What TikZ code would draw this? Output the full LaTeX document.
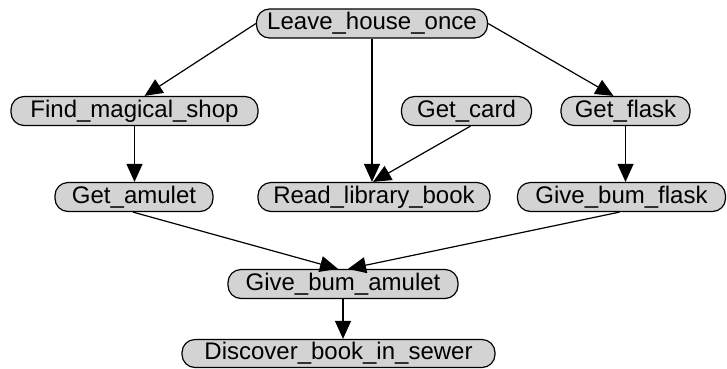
\documentclass[tikz,border=0pt]{standalone}
\usepackage{fontspec}
\setmainfont{Liberation Sans}
\usetikzlibrary{arrows.meta,positioning}
\definecolor{boxgray}{RGB}{211,211,211}

\begin{document}
\begin{tikzpicture}[x=1pt, y=-1pt,
  act/.style={draw, line width=1.2pt, fill=boxgray, rounded corners=13pt, minimum height=29pt, inner sep=0pt, font=\fontsize{24}{28}\selectfont},
  arr/.style={-{Triangle[length=18pt,width=16pt]}, line width=1.2pt}
]
\useasboundingbox (0,0) rectangle (727,368);
\node[act, minimum width=231pt] (leaveHouse) at (372,23.5) {Leave\_house\_once};
\node[act, minimum width=247pt] (findShop) at (134.5,111) {Find\_magical\_shop};
\node[act, minimum width=130pt] (getCard) at (466.5,111) {Get\_card};
\node[act, minimum width=129pt] (getFlask) at (625.5,111) {Get\_flask};
\node[act, minimum width=158pt] (getAmulet) at (134,197) {Get\_amulet};
\node[act, minimum width=232pt] (readBook) at (374,197) {Read\_library\_book};
\node[act, minimum width=208pt] (giveFlask) at (621.5,197) {Give\_bum\_flask};
\node[act, minimum width=230pt] (giveAmulet) at (343,284) {Give\_bum\_amulet};
\node[act, minimum width=313pt, minimum height=28pt] (discoverBook) at (338.5,353.5) {Discover\_book\_in\_sewer};

\draw[arr] (leaveHouse.west) -- ([xshift=10pt]findShop.north);
\draw[arr] (leaveHouse.south) -- (leaveHouse.south |- readBook.north);
\draw[arr] (leaveHouse.east) -- ([xshift=-12pt]getFlask.north);
\draw[arr] ([xshift=4pt]getCard.south) -- ([xshift=-1pt]readBook.north);
\draw[arr] (findShop.south) -- (findShop.south |- getAmulet.north);
\draw[arr] (getFlask.south) -- (getFlask.south |- giveFlask.north);
\draw[arr] ([xshift=-1pt]getAmulet.south) -- ([xshift=-5pt]giveAmulet.north);
\draw[arr] ([xshift=-2pt]giveFlask.south) -- ([xshift=5pt]giveAmulet.north);
\draw[arr] (giveAmulet.south) -- (giveAmulet.south |- discoverBook.north);
\end{tikzpicture}
\end{document}
